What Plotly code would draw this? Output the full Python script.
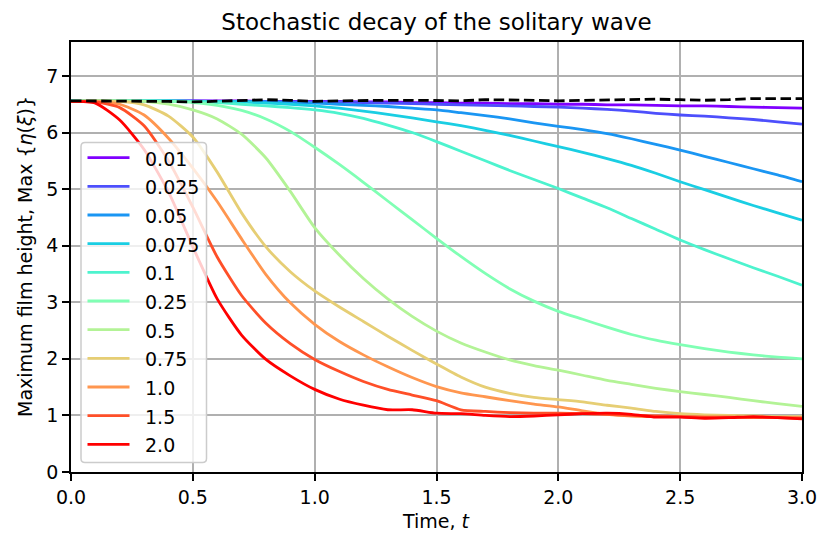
import plotly.graph_objects as go

# Time axis (t) and maximum film height for each noise amplitude
T = [0.0, 0.1, 0.2, 0.3, 0.4, 0.5, 0.6, 0.7, 0.8, 0.9, 1.0,
     1.1, 1.2, 1.3, 1.4, 1.5, 1.6, 1.7, 1.8, 1.9, 2.0,
     2.1, 2.2, 2.3, 2.4, 2.5, 2.6, 2.7, 2.8, 2.9, 3.0]

labels = ["0.01", "0.025", "0.05", "0.075", "0.1", "0.25", "0.5", "0.75", "1.0", "1.5", "2.0"]

h_001 = [6.56, 6.56, 6.56, 6.56, 6.56, 6.56, 6.56, 6.56, 6.55, 6.55, 6.55,
         6.55, 6.54, 6.54, 6.53, 6.53, 6.52, 6.52, 6.51, 6.51, 6.50,
         6.50, 6.49, 6.49, 6.48, 6.47, 6.47, 6.46, 6.45, 6.44, 6.43]
h_0025 = [6.56, 6.56, 6.56, 6.56, 6.56, 6.56, 6.55, 6.55, 6.55, 6.54, 6.54,
          6.54, 6.53, 6.52, 6.51, 6.50, 6.49, 6.48, 6.47, 6.46, 6.45,
          6.43, 6.41, 6.38, 6.34, 6.31, 6.29, 6.26, 6.23, 6.19, 6.15]
h_005 = [6.56, 6.56, 6.56, 6.56, 6.56, 6.55, 6.55, 6.55, 6.54, 6.53, 6.52,
         6.50, 6.48, 6.46, 6.43, 6.40, 6.35, 6.30, 6.24, 6.17, 6.11,
         6.05, 5.98, 5.89, 5.79, 5.69, 5.58, 5.47, 5.36, 5.25, 5.13]
h_0075 = [6.56, 6.56, 6.56, 6.56, 6.56, 6.55, 6.55, 6.54, 6.52, 6.50, 6.47,
          6.43, 6.38, 6.32, 6.26, 6.19, 6.12, 6.04, 5.95, 5.85, 5.75,
          5.65, 5.54, 5.42, 5.28, 5.13, 4.99, 4.85, 4.71, 4.58, 4.45]
h_01 = [6.56, 6.56, 6.56, 6.56, 6.56, 6.55, 6.53, 6.50, 6.47, 6.44, 6.40,
        6.34, 6.25, 6.13, 6.00, 5.84, 5.67, 5.50, 5.33, 5.17, 5.01,
        4.84, 4.67, 4.48, 4.29, 4.10, 3.93, 3.77, 3.61, 3.46, 3.30]
h_025 = [6.56, 6.56, 6.56, 6.56, 6.55, 6.53, 6.48, 6.39, 6.24, 6.02, 5.74,
         5.44, 5.12, 4.79, 4.46, 4.13, 3.81, 3.51, 3.24, 3.02, 2.84,
         2.70, 2.56, 2.43, 2.33, 2.25, 2.18, 2.12, 2.07, 2.03, 2.00]
h_05 = [6.55, 6.56, 6.56, 6.55, 6.50, 6.40, 6.24, 5.97, 5.55, 4.96, 4.32,
        3.84, 3.42, 3.06, 2.75, 2.49, 2.28, 2.12, 1.98, 1.88, 1.80,
        1.71, 1.62, 1.55, 1.48, 1.42, 1.37, 1.32, 1.26, 1.21, 1.16]
h_075 = [6.55, 6.56, 6.55, 6.49, 6.29, 5.92, 5.30, 4.58, 3.98, 3.54, 3.20,
         2.92, 2.66, 2.40, 2.15, 1.91, 1.68, 1.50, 1.39, 1.32, 1.28,
         1.24, 1.18, 1.13, 1.07, 1.03, 1.01, 1.00, 0.99, 0.98, 0.98]
h_10 = [6.55, 6.55, 6.50, 6.31, 5.90, 5.37, 4.78, 4.12, 3.49, 2.99, 2.61,
        2.31, 2.07, 1.86, 1.67, 1.51, 1.40, 1.33, 1.26, 1.20, 1.15,
        1.08, 1.02, 0.99, 0.98, 0.98, 0.97, 0.97, 0.96, 0.96, 0.96]
h_15 = [6.55, 6.54, 6.44, 6.12, 5.50, 4.68, 3.80, 3.12, 2.63, 2.27, 1.99,
        1.78, 1.60, 1.46, 1.36, 1.26, 1.10, 1.07, 1.05, 1.04, 1.04,
        1.03, 1.02, 1.00, 0.99, 0.98, 0.97, 0.97, 0.96, 0.96, 0.95]
h_20 = [6.55, 6.52, 6.22, 5.70, 4.95, 3.98, 3.06, 2.42, 1.99, 1.70, 1.46,
        1.29, 1.18, 1.10, 1.10, 1.04, 1.03, 1.00, 0.98, 0.99, 1.01,
        1.03, 1.04, 1.02, 0.97, 0.97, 0.95, 0.96, 0.98, 0.96, 0.94]

# Noise-free reference run
h_ref = [6.56, 6.56, 6.56, 6.56, 6.55, 6.54, 6.55, 6.57, 6.58, 6.57, 6.55,
         6.56, 6.57, 6.57, 6.57, 6.56, 6.56, 6.58, 6.58, 6.57, 6.56,
         6.57, 6.58, 6.59, 6.59, 6.58, 6.57, 6.58, 6.60, 6.60, 6.60]

series = [h_001, h_0025, h_005, h_0075, h_01, h_025, h_05, h_075, h_10, h_15, h_20]

x_ticks = [0.0, 0.5, 1.0, 1.5, 2.0, 2.5, 3.0]
x_tick_text = ["0.0", "0.5", "1.0", "1.5", "2.0", "2.5", "3.0"]
y_ticks = [0, 1, 2, 3, 4, 5, 6, 7]
y_tick_text = ["0", "1", "2", "3", "4", "5", "6", "7"]

# matplotlib "rainbow" colours sampled evenly over 11 curves
colors = ["#8000ff", "#4d4ffc", "#1a96f3", "#1acee3", "#4df3ce", "#80ffb4",
          "#b3f396", "#e6ce74", "#ff964f", "#ff4f28", "#ff0000"]

FONT = "DejaVu Sans"
W, H = 818, 534
ML, MR, MT, MB = 71, 16, 42, 62
PW, PH = W - ML - MR, H - MT - MB

fig = go.Figure()
for vals, lab, col in zip(series, labels, colors):
    fig.add_trace(go.Scatter(x=T, y=vals, mode="lines", name=lab,
                             line=dict(color=col, width=2.8, shape="spline", smoothing=0.6),
                             showlegend=False))
fig.add_trace(go.Scatter(x=T, y=h_ref, mode="lines", name="reference",
                         line=dict(color="black", width=2.8, dash="10.5px,4.6px"),
                         showlegend=False))


def px(xp):
    return (xp - ML) / PW


def py(yp):
    return (H - MB - yp) / PH


# Legend box (semi-transparent, rounded corners)
bx0, bx1, by0, by1 = 81, 206.5, 142.5, 462.5
r = 4
rx, ry = r / PW, r / PH
X0, X1, Y0, Y1 = px(bx0), px(bx1), py(by1), py(by0)
path = (f"M{X0 + rx},{Y0} L{X1 - rx},{Y0} Q{X1},{Y0} {X1},{Y0 + ry} "
        f"L{X1},{Y1 - ry} Q{X1},{Y1} {X1 - rx},{Y1} L{X0 + rx},{Y1} "
        f"Q{X0},{Y1} {X0},{Y1 - ry} L{X0},{Y0 + ry} Q{X0},{Y0} {X0 + rx},{Y0} Z")
shapes = [dict(type="path", path=path, xref="paper", yref="paper", layer="above",
               fillcolor="rgba(255,255,255,0.8)", line=dict(color="#cccccc", width=1.5))]
annotations = []
for i, (lab, col) in enumerate(zip(labels, colors)):
    yc = 157.7 + i * 28.66
    shapes.append(dict(type="line", xref="paper", yref="paper", layer="above",
                       x0=px(87.5), x1=px(129.5), y0=py(yc), y1=py(yc),
                       line=dict(color=col, width=2.8)))
    annotations.append(dict(text=lab, xref="paper", yref="paper", x=px(143), y=py(yc + 1),
                            xanchor="left", yanchor="middle", showarrow=False,
                            font=dict(family=FONT, size=19, color="black")))

# Axis titles
annotations.append(dict(text="Time, <i>t</i>", xref="paper", yref="paper",
                        x=0.5, y=py(521), xanchor="center", yanchor="middle",
                        showarrow=False, font=dict(family=FONT, size=19, color="black")))
annotations.append(dict(text="Maximum film height, Max {<i>η</i>(<i>ξ</i>)}",
                        xref="paper", yref="paper", x=px(25), y=py(257),
                        xanchor="center", yanchor="middle", textangle=-90,
                        showarrow=False, font=dict(family=FONT, size=19, color="black")))

axis_common = dict(showline=True, linecolor="black", linewidth=1.5, mirror=True,
                   ticks="outside", ticklen=7, tickwidth=1.5, tickcolor="black",
                   showgrid=True, gridcolor="#b0b0b0", gridwidth=1.5, zeroline=False,
                   automargin=False,
                   tickfont=dict(family=FONT, size=19, color="black"))

fig.update_layout(
    width=W, height=H,
    margin=dict(l=ML, r=MR, t=MT, b=MB, pad=0),
    paper_bgcolor="white", plot_bgcolor="white",
    title=dict(text="Stochastic decay of the solitary wave", x=0.5, xref="paper",
               y=1 - 22 / H, yref="container", xanchor="center", yanchor="middle",
               font=dict(family=FONT, size=23, color="black")),
    xaxis=dict(range=[0, 3], tickvals=x_ticks, ticktext=x_tick_text, **axis_common),
    yaxis=dict(range=[0, 7.6], tickvals=y_ticks, ticktext=y_tick_text, **axis_common),
    shapes=shapes, annotations=annotations,
    showlegend=False,
)

fig.write_html("out.html")
